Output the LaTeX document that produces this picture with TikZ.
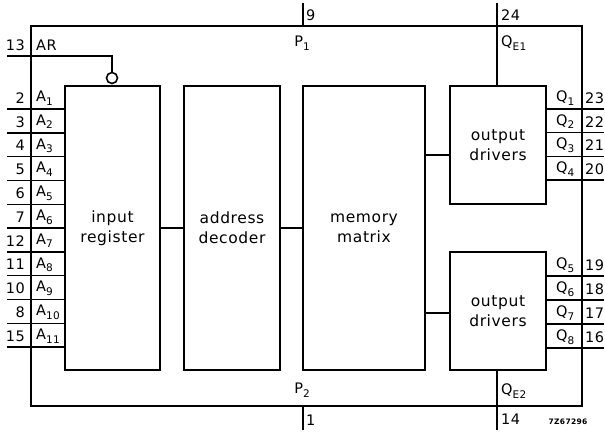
\documentclass[tikz,border=0pt]{standalone}
\usepackage{fontspec}
\setmainfont{DejaVu Sans}[LetterSpace=4]
\newcommand\lowsub[1]{\raisebox{-0.45ex}{\fontsize{10.5}{10.5}\selectfont #1}}
\begin{document}
\begin{tikzpicture}[x=1pt,y=-1pt,
  blk/.style={draw, line width=2.4pt, inner sep=0pt, align=center,
              font=\fontsize{15.5}{20}\selectfont},
  chipbox/.style={draw, line width=2pt, inner sep=0pt},
  pin/.style={line width=1.4pt},
  lbl/.style={inner sep=0pt, font=\fontsize{14.5}{14.5}\selectfont},
  bubble/.style={draw, circle, line width=1.6pt, minimum size=11pt, inner sep=0pt}]
\useasboundingbox (0,0) rectangle (605,432);
% outer chip outline
\node[chipbox, minimum width=551pt, minimum height=380pt] (chip) at (306.5,216) {};
% blocks
\node[blk, minimum width=95pt, minimum height=284pt] (ir) at (112.5,228) {input\\register};
\node[blk, minimum width=96pt, minimum height=284pt] (ad) at (232,228) {address\\decoder};
\node[blk, minimum width=122pt, minimum height=284pt] (mm) at (364,228) {memory\\matrix};
\node[blk, minimum width=96pt, minimum height=118pt] (od1) at (498,145) {output\\drivers};
\node[blk, minimum width=96pt, minimum height=118pt] (od2) at (498,311) {output\\drivers};
% internal connections
\draw[pin] (ir.east) -- (ad.west);
\draw[pin] (ad.west -| ad.east) -- (mm.west);
\draw[pin] (mm.east |- od1.west) ++(0,10) coordinate (m1) -- (m1 -| od1.west);
\draw[pin] (mm.east |- od2.west) ++(0,2) coordinate (m2) -- (m2 -| od2.west);
% AR with inversion bubble
\node[bubble] (bub) at (112,78) {};
\coordinate (arend) at (7,56);
\draw[pin] (arend) -- (bub.north |- arend) -- (bub.north);
\node[lbl, anchor=east] (n13) at (25,45) {13};
\node[lbl, anchor=west] (lar) at (36,45) {AR};
% address pins
\foreach \num/\sub [count=\k] in {2/1,3/2,4/3,5/4,6/5,7/6,12/7,11/8,10/9,8/10,15/11}{
  \pgfmathsetmacro\yy{109+(\k-1)*23.8}
  \coordinate (a\k) at (7,\yy);
  \draw[pin] (a\k) -- (a\k -| ir.west);
  \node[lbl, anchor=east] (an\k) at (25,\yy-11) {\num};
  \node[lbl, anchor=west] (al\k) at (36,\yy-11) {A\lowsub{\sub}};
}
% output pins upper
\foreach \num [count=\k] in {23,22,21,20}{
  \pgfmathsetmacro\yy{109+(\k-1)*23.7}
  \coordinate (q\k) at (604,\yy);
  \draw[pin] (q\k -| od1.east) -- (q\k);
  \node[lbl, anchor=west] (ql\k) at (556,\yy-11) {Q\lowsub{\k}};
  \node[lbl, anchor=west] (qn\k) at (585,\yy-11) {\num};
}
% output pins lower
\foreach \num/\s [count=\k] in {19/5,18/6,17/7,16/8}{
  \pgfmathsetmacro\yy{276+(\k-1)*24}
  \coordinate (r\k) at (604,\yy);
  \draw[pin] (r\k -| od2.east) -- (r\k);
  \node[lbl, anchor=west] (rl\k) at (556,\yy-11) {Q\lowsub{\s}};
  \node[lbl, anchor=west] (rn\k) at (585,\yy-11) {\num};
}
% QE1 / QE2
\coordinate (qe1) at (497,3);
\draw[pin] (qe1) -- (qe1 |- od1.north);
\node[lbl, anchor=west] (n24) at (501,15) {24};
\node[lbl, anchor=west] (lqe1) at (501,43) {Q\lowsub{E1}};
\coordinate (qe2) at (497,430);
\draw[pin] (qe2 |- od2.south) -- (qe2);
\node[lbl, anchor=west] (lqe2) at (501,391) {Q\lowsub{E2}};
\node[lbl, anchor=west] (n14) at (501,419) {14};
% P1 / P2
\coordinate (p1) at (303,3);
\draw[pin] (p1) -- (p1 |- chip.north);
\node[lbl, anchor=west] (n9) at (306,15) {9};
\node[lbl] (lp1) at (302,43) {P\lowsub{1}};
\coordinate (p2) at (303,430);
\draw[pin] (p2 |- chip.south) -- (p2);
\node[lbl] (lp2) at (302,390) {P\lowsub{2}};
\node[lbl, anchor=west] (n1) at (306,420) {1};
% code
\node[inner sep=0pt, font=\fontsize{7.5}{7.5}\selectfont\bfseries] (code) at (568,422) {7Z67296};
\end{tikzpicture}
\end{document}
